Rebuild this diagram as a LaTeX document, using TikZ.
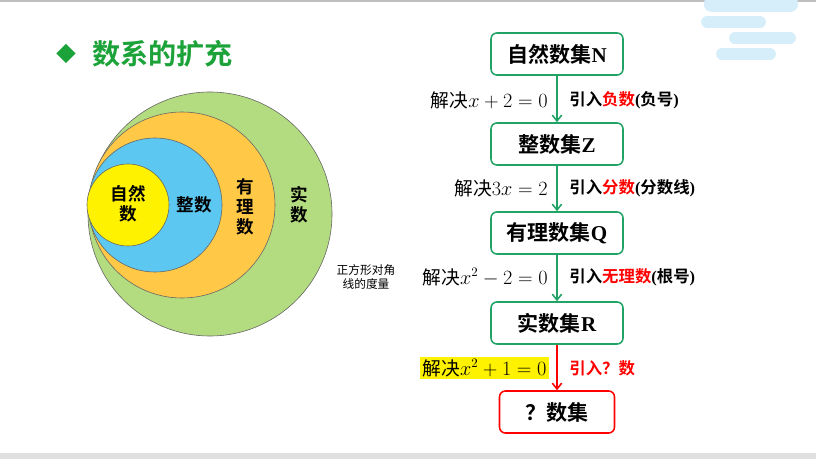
\documentclass[tikz,border=0pt]{standalone}
\usepackage{fontspec}
\setmainfont{Liberation Serif}
\newfontfamily\cjk{Noto Sans CJK SC}
\newfontfamily\cjkb{Noto Sans CJK SC Bold}
\usetikzlibrary{arrows.meta}
\definecolor{gbox}{HTML}{21A366}
\definecolor{cgreen}{HTML}{B3DB7F}
\definecolor{corange}{HTML}{FFC846}
\definecolor{cblue}{HTML}{5CC8F2}
\definecolor{cloud}{HTML}{D6EEFA}
\definecolor{ttl}{HTML}{1BA339}
\newcommand{\lt}[1]{{\rmfamily\bfseries #1}}
\begin{document}
\begin{tikzpicture}[x=0.03cm,y=-0.03cm,
 box/.style={draw=gbox,line width=1.3pt,rounded corners=5pt,minimum width=132*0.03cm,minimum height=42*0.03cm,font=\fontsize{18}{20}\selectfont\cjkb},
 arr/.style={draw=gbox,line width=1.3pt,-{Straight Barb[length=5pt,width=8pt]}},
 lab/.style={font=\fontsize{16}{18}\selectfont\cjk,anchor=east,inner sep=1pt},
 rlab/.style={font=\fontsize{14}{17}\selectfont\cjkb,anchor=west,inner sep=1pt},
 circ/.style={draw=black!60,line width=0.5pt},
 clab/.style={font=\fontsize{15}{17}\selectfont\cjkb,align=center}]
\useasboundingbox (0,0) rectangle (816,459);
\fill[white] (0,0) rectangle (816,459);
\draw[black!25,line width=1pt] (0,1) -- (816,1);
\fill[black!12] (0,453) rectangle (816,459);
% cloud decoration
\begin{scope}[cloud, line cap=round]
\draw[line width=14pt,cloud] (712,4) -- (790,4);
\draw[line width=10pt] (707,22) -- (760,22);
\draw[line width=10pt] (735,38) -- (790,38);
\draw[line width=10pt] (722,54) -- (770,54);
\end{scope}
% title
\node[font=\fontsize{17}{18}\selectfont\cjkb,text=ttl] (dia) at (66,54) {◆};
\node[font=\fontsize{24}{26}\selectfont\cjkb,text=ttl,anchor=west] (title) at (88,54) {数系的扩充};
% circles
\draw[circ,fill=cgreen] (210,214) circle (122);
\draw[circ,fill=corange] (182,205) circle (93);
\draw[circ,fill=cblue] (155,205) circle (67);
\draw[circ,fill=yellow] (128,205) circle (41);
\node[clab] (c1) at (128,204) {自然\\数};
\node[clab] (c2) at (194,205) {整数};
\node[clab] (c3) at (245,207) {有\\理\\数};
\node[clab] (c4) at (299,205) {实\\数};
\node[font=\fontsize{10}{12}\selectfont\cjk,align=center] (sq) at (366,277) {正方形对角\\线的度量};
% boxes
\node[box] (N) at (557,54) {自然数集\lt{N}};
\node[box] (Z) at (557,144) {整数集\lt{Z}};
\node[box] (Q) at (557,233) {有理数集\lt{Q}};
\node[box] (R) at (557,323) {实数集\lt{R}};
\node[box,draw=red,minimum width=115*0.03cm] (U) at (557,412) {？数集};
\draw[arr] (N) -- (Z);
\draw[arr] (Z) -- (Q);
\draw[arr] (Q) -- (R);
\draw[arr,draw=red] (R) -- (U);
\node[lab] (l1) at (549,100) {解决$x+2=0$};
\node[lab] (l2) at (549,188) {解决$3x=2$};
\node[lab] (l3) at (549,277) {解决$x^2-2=0$};
\node[lab,fill=yellow,inner sep=2pt] (l4) at (549,368) {解决$x^2+1=0$};
\node[rlab] (r1) at (568,100) {引入\textcolor{red}{负数}\lt{(}负号\lt{)}};
\node[rlab] (r2) at (568,188) {引入\textcolor{red}{分数}\lt{(}分数线\lt{)}};
\node[rlab] (r3) at (568,277) {引入\textcolor{red}{无理数}\lt{(}根号\lt{)}};
\node[rlab,text=red] (r4) at (568,368) {引入？数};
\end{tikzpicture}
\end{document}
